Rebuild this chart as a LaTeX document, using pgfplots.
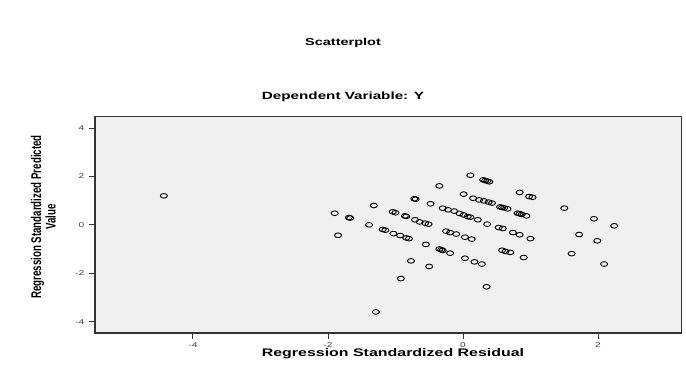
\documentclass[border=0pt]{standalone}
\usepackage{pgfplots}
\pgfplotsset{compat=1.18}
\usepackage{fontspec}
\setmainfont{Liberation Sans}
\newfontfamily\wide[FakeStretch=1.45]{Liberation Sans}
\definecolor{bgc}{HTML}{F0F0F0}
\definecolor{frm}{HTML}{333333}
\begin{document}
\begin{tikzpicture}[x=1pt,y=1pt]
\path[use as bounding box] (0,0) rectangle (686,369);
\begin{axis}[
  at={(95pt,36pt)}, anchor=south west,
  scale only axis, width=586.7pt, height=216.3pt,
  xmin=-5.45, xmax=3.24, ymin=-4.47, ymax=4.47,
  axis background/.style={fill=bgc},
  axis line style={draw=frm, line width=1.1pt},
  xtick={-4,-2,0,2}, xticklabels={-4,-2,0,2},
  ytick={-4,-2,0,2,4}, yticklabels={-4,-2,0,2,4},
  xtick pos=bottom, ytick pos=left,
  tick align=outside,
  major tick length=6pt,
  xtick style={draw=frm, line width=0.8pt},
  ytick style={draw=frm, line width=0.8pt},
  ticklabel style={font=\wide\fontsize{7}{8}\selectfont, text=black!75},
  yticklabel style={inner sep=1.5pt, xshift=-3pt},
  xticklabel style={inner sep=1.5pt, yshift=-1.5pt},
]
\addplot[only marks, mark=o, mark size=2.35pt, mark options={xscale=1.5, line width=0.9pt, draw=black}] table {
x y
-4.43 1.20
-1.90 0.48
-1.85 -0.43
-1.69 0.30
-1.67 0.28
-1.32 0.80
-1.39 0.00
-1.04 0.54
-1.00 0.50
-0.86 0.37
-0.84 0.35
-0.72 1.08
-0.70 1.06
-0.71 0.21
-0.64 0.12
-0.56 0.07
-0.51 0.03
-1.19 -0.19
-1.15 -0.22
-1.03 -0.36
-0.93 -0.44
-0.84 -0.54
-0.80 -0.57
-0.77 -1.49
-0.92 -2.22
-1.29 -3.60
0.11 2.05
0.30 1.86
0.33 1.83
0.36 1.81
0.39 1.78
-0.35 1.61
0.84 1.34
0.98 1.17
1.03 1.14
-0.48 0.87
0.01 1.27
0.15 1.10
0.24 1.03
0.31 0.99
0.38 0.94
0.43 0.90
0.55 0.74
0.58 0.72
0.61 0.70
0.66 0.66
0.81 0.48
0.84 0.46
0.87 0.43
0.94 0.37
-0.30 0.69
-0.22 0.62
-0.13 0.57
-0.05 0.47
0.01 0.41
0.07 0.34
0.11 0.32
0.22 0.21
0.36 0.03
0.53 -0.11
0.59 -0.15
0.74 -0.32
0.84 -0.41
1.00 -0.57
-0.55 -0.81
-0.35 -1.00
-0.32 -1.03
-0.30 -1.06
-0.19 -1.17
0.03 -1.38
0.17 -1.53
0.28 -1.62
0.58 -1.05
0.63 -1.10
0.70 -1.14
0.90 -1.35
-0.50 -1.72
0.35 -2.56
1.50 0.69
1.94 0.25
2.24 -0.04
1.72 -0.40
1.99 -0.66
1.61 -1.19
2.09 -1.62
-0.25 -0.26
-0.19 -0.32
-0.10 -0.38
0.03 -0.51
0.13 -0.59
};
\end{axis}
\node[font=\wide\bfseries\fontsize{10}{12}\selectfont] at (343,326) {Scatterplot};
\node[font=\wide\bfseries\fontsize{10.5}{12}\selectfont] at (343,272) {Dependent Variable: Y};
\node[font=\wide\bfseries\fontsize{11}{13}\selectfont] at (393,15) {Regression Standardized Residual};
\node[rotate=90, inner sep=0pt] at (45.5,152) {\scalebox{1}[1.45]{\fontsize{9.7}{10}\selectfont\bfseries\begin{tabular}{@{}c@{}}Regression Standardized Predicted\\Value\end{tabular}}};
\end{tikzpicture}
\end{document}
